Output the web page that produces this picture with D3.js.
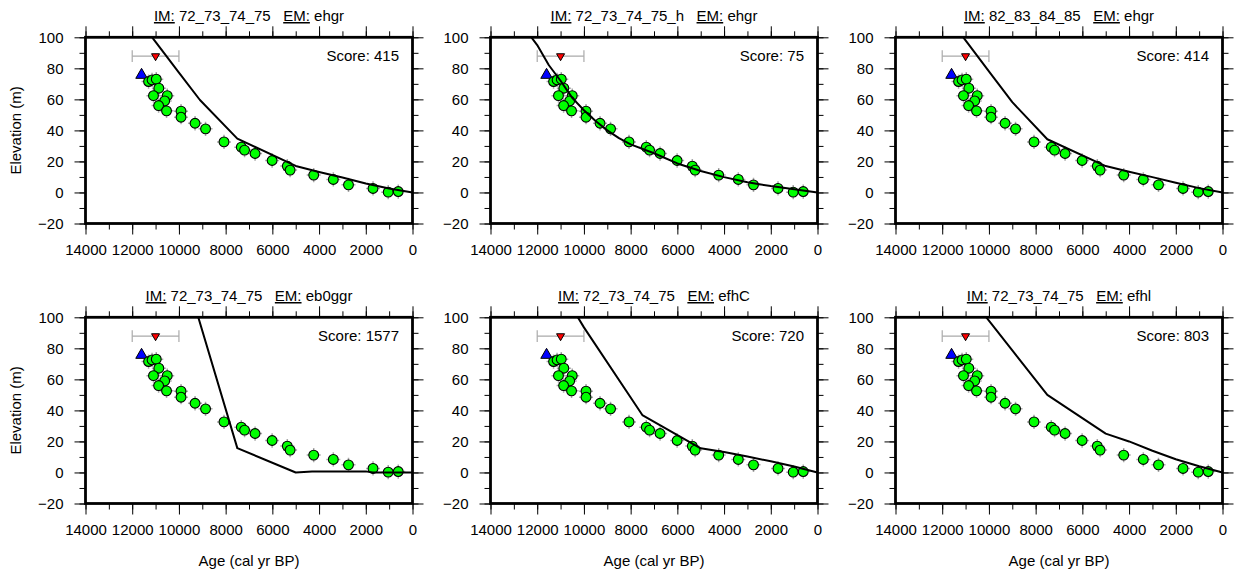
<!DOCTYPE html>
<html>
<head>
<meta charset="utf-8">
<script src="https://cdn.jsdelivr.net/npm/d3@7"></script>
<style>
  html, body { margin: 0; padding: 0; background: #fff; }
  svg { display: block; }
</style>
</head>
<body>
<div id="chart"></div>
<script>
// ---------------- data ----------------
// observed sea-level index points (shared by all panels)
const obsAge  = [11300, 11150, 10970, 10860, 11090, 10500, 10610, 10870, 10530, 9910, 9910, 9310, 8860, 8070, 7330, 7190, 6740, 6010, 5360, 5240, 4230, 3390, 2740, 1690, 1040, 610];
const obsElev = [71.5, 72.5, 73.0, 67.2, 62.4, 62.4, 59.0, 56.0, 52.6, 52.4, 48.5, 44.6, 41.0, 32.6, 29.2, 27.3, 25.1, 20.6, 17.0, 14.4, 11.2, 8.4, 4.9, 2.6, 0.2, 0.6];
const obsAgeErr  = obsAge.map(() => 300);
const obsElevErr = obsElev.map(() => 4.6);

// marine limit (blue triangle) and upper limit with age range (red inverted triangle)
const marineLimit = { age: 11600, elev: 75.7 };
const upperLimit  = { age: 11000, elev: 87.9, ageErr: 1000 };

// panel descriptors
const panelIM    = ["72_73_74_75", "72_73_74_75_h", "82_83_84_85", "72_73_74_75", "72_73_74_75", "72_73_74_75"];
const panelEM    = ["ehgr", "ehgr", "ehgr", "eb0ggr", "efhC", "efhl"];
const panelScore = [415, 75, 414, 1577, 720, 803];

// modelled relative sea-level curves [age, elevation]
const model1 = [[11500,107],[11000,97],[10000,77.3],[9100,59.6],[7500,34.7],[5000,17.1],[4000,13.2],[3000,9.6],[2000,5.8],[1000,2.6],[0,0]];
const model2 = [[12500,105],[12000,95],[11500,82],[11000,72],[10500,61],[10000,53],[9500,46],[9000,40],[8500,35],[8000,31],[7000,25.3],[6000,18.7],[5000,13.8],[4000,9.9],[3000,6.6],[2000,4.1],[1000,2],[0,0]];
const model3 = [[11500,108],[11000,98],[10000,78],[9000,58.2],[7500,34.3],[5000,17],[4000,13.4],[3000,9.9],[2000,6.2],[1000,2.8],[0,0]];
const model4 = [[9500,116.6],[7500,15.7],[5000,0],[4300,0.7],[2000,0.7],[1700,0],[0,0]];
const model5 = [[10500,106],[10000,93.5],[7500,37],[5000,15.6],[4000,13.2],[3000,10.3],[2000,7.2],[1000,3.8],[0,0]];
const model6 = [[10500,107.4],[7500,50],[5000,25],[4000,20],[3000,14],[2000,8.5],[1000,4],[0,0]];
const models = [model1, model2, model3, model4, model5, model6];

// axes
const xDomain = [14000, 0];
const yDomain = [-20, 100];
const xMajor = [14000, 12000, 10000, 8000, 6000, 4000, 2000, 0];
const xMinor = d3.range(0, 14001, 1000);
const yMajor = [-20, 0, 20, 40, 60, 80, 100];
const yMinor = d3.range(-20, 101, 10);
const xLabel = "Age (cal yr BP)";
const yLabel = "Elevation (m)";

// ---------------- layout ----------------
const W = 1240, H = 575;
const FONT = "'Liberation Sans', Arial, Helvetica, sans-serif";
const PW = 327, PH = 186.2;
const colX = [85.5, 490.5, 895.5];
const rowY = [37.3, 317.3];

const svg = d3.select("#chart").append("svg")
  .attr("width", W).attr("height", H)
  .attr("viewBox", `0 0 ${W} ${H}`)
  .style("font-family", FONT);

svg.append("rect").attr("width", W).attr("height", H).attr("fill", "#fff");

const fmt = d3.format("d");

models.forEach((model, i) => {
  const col = i % 3, row = Math.floor(i / 3);
  const x0 = colX[col], y0 = rowY[row];
  const x = d3.scaleLinear().domain(xDomain).range([0, PW]);
  const y = d3.scaleLinear().domain(yDomain).range([PH, 0]);

  const g = svg.append("g").attr("transform", `translate(${x0},${y0})`);

  const clipId = "clip" + i;
  g.append("clipPath").attr("id", clipId)
    .append("rect").attr("x", 0).attr("y", 0).attr("width", PW).attr("height", PH);

  const plot = g.append("g").attr("clip-path", `url(#${clipId})`);

  // error bars of observations
  const eb = plot.append("g").attr("stroke", "#a9a9a9").attr("stroke-width", 1.5);
  obsAge.forEach((a, k) => {
    eb.append("line")
      .attr("x1", x(a - obsAgeErr[k])).attr("x2", x(a + obsAgeErr[k]))
      .attr("y1", y(obsElev[k])).attr("y2", y(obsElev[k]));
    eb.append("line")
      .attr("x1", x(a)).attr("x2", x(a))
      .attr("y1", y(obsElev[k] - obsElevErr[k])).attr("y2", y(obsElev[k] + obsElevErr[k]));
  });

  // upper limit age range
  const ul = plot.append("g").attr("stroke", "#aaaaaa").attr("stroke-width", 1.2).attr("fill", "none");
  const uy = y(upperLimit.elev);
  ul.append("line").attr("x1", x(upperLimit.age + upperLimit.ageErr)).attr("x2", x(upperLimit.age - upperLimit.ageErr))
    .attr("y1", uy).attr("y2", uy);
  [upperLimit.age + upperLimit.ageErr, upperLimit.age - upperLimit.ageErr].forEach(a => {
    ul.append("line").attr("x1", x(a)).attr("x2", x(a)).attr("y1", uy - 5.8).attr("y2", uy + 5.8);
  });

  // triangles
  plot.append("path")
    .attr("d", d3.symbol().type(d3.symbolTriangle).size(57.8)())
    .attr("transform", `translate(${x(marineLimit.age)},${y(marineLimit.elev)})`)
    .attr("fill", "#0000ff").attr("stroke", "#000").attr("stroke-width", 1);
  plot.append("path")
    .attr("d", d3.symbol().type(d3.symbolTriangle).size(28)())
    .attr("transform", `translate(${x(upperLimit.age)},${uy}) rotate(180)`)
    .attr("fill", "#ff0000").attr("stroke", "#000").attr("stroke-width", 1);

  // observation circles
  plot.append("g").selectAll("circle")
    .data(obsAge.map((a, k) => [a, obsElev[k]]))
    .join("circle")
    .attr("cx", d => x(d[0])).attr("cy", d => y(d[1]))
    .attr("r", 4.9)
    .attr("fill", "#00ff00").attr("stroke", "#000").attr("stroke-width", 1.1);

  // model curve
  plot.append("path")
    .datum(model)
    .attr("d", d3.line().x(d => x(d[0])).y(d => y(d[1])))
    .attr("fill", "none").attr("stroke", "#000").attr("stroke-width", 2)
    .attr("stroke-linejoin", "round");

  // axes (ticks on four sides)
  function styleAxis(sel, showLabels) {
    sel.select(".domain").remove();
    sel.selectAll(".tick line").attr("stroke", "#000").attr("stroke-width", 1);
    sel.selectAll(".tick text").attr("fill", "#000").style("font-size", "15px").style("font-family", FONT);
    if (!showLabels) sel.selectAll(".tick text").remove();
  }
  g.append("g").attr("transform", `translate(0,${PH})`)
    .call(d3.axisBottom(x).tickValues(xMinor).tickSize(6).tickFormat(""))
    .call(s => styleAxis(s, false));
  g.append("g").attr("transform", `translate(0,${PH})`)
    .call(d3.axisBottom(x).tickValues(xMajor).tickSize(11).tickPadding(10).tickFormat(fmt))
    .call(s => styleAxis(s, true));
  g.append("g")
    .call(d3.axisTop(x).tickValues(xMinor).tickSize(6).tickFormat(""))
    .call(s => styleAxis(s, false));
  g.append("g")
    .call(d3.axisTop(x).tickValues(xMajor).tickSize(11).tickFormat(""))
    .call(s => styleAxis(s, false));
  g.append("g")
    .call(d3.axisLeft(y).tickValues(yMinor).tickSize(6).tickFormat(""))
    .call(s => styleAxis(s, false));
  g.append("g")
    .call(d3.axisLeft(y).tickValues(yMajor).tickSize(11).tickPadding(11).tickFormat(fmt))
    .call(s => styleAxis(s, true));
  g.append("g").attr("transform", `translate(${PW},0)`)
    .call(d3.axisRight(y).tickValues(yMinor).tickSize(6).tickFormat(""))
    .call(s => styleAxis(s, false));
  g.append("g").attr("transform", `translate(${PW},0)`)
    .call(d3.axisRight(y).tickValues(yMajor).tickSize(11).tickFormat(""))
    .call(s => styleAxis(s, false));

  // frame
  g.append("rect").attr("x", 0).attr("y", 0).attr("width", PW).attr("height", PH)
    .attr("fill", "none").attr("stroke", "#000").attr("stroke-width", 2.8);

  // title
  const t = g.append("text")
    .attr("x", PW / 2).attr("y", -16.3)
    .attr("text-anchor", "middle")
    .attr("xml:space", "preserve")
    .style("white-space", "pre")
    .style("font-size", "15px").attr("fill", "#000");
  t.append("tspan").text("IM:").style("text-decoration", "underline");
  t.append("tspan").text(" " + panelIM[i] + "   ");
  t.append("tspan").text("EM:").style("text-decoration", "underline");
  t.append("tspan").text(" " + panelEM[i]);

  // score
  g.append("text")
    .attr("x", PW - 13.5).attr("y", 23.8)
    .attr("text-anchor", "end")
    .style("font-size", "15px").attr("fill", "#000")
    .text("Score: " + panelScore[i]);

  // axis labels
  if (col === 0) {
    g.append("text")
      .attr("transform", `translate(${20.5 - x0},${PH / 2}) rotate(-90)`)
      .attr("text-anchor", "middle")
      .style("font-size", "15px").attr("fill", "#000")
      .text(yLabel);
  }
  if (row === 1) {
    g.append("text")
      .attr("x", PW / 2).attr("y", PH + 62.5)
      .attr("text-anchor", "middle")
      .style("font-size", "15px").attr("fill", "#000")
      .text(xLabel);
  }
});
</script>
</body>
</html>
